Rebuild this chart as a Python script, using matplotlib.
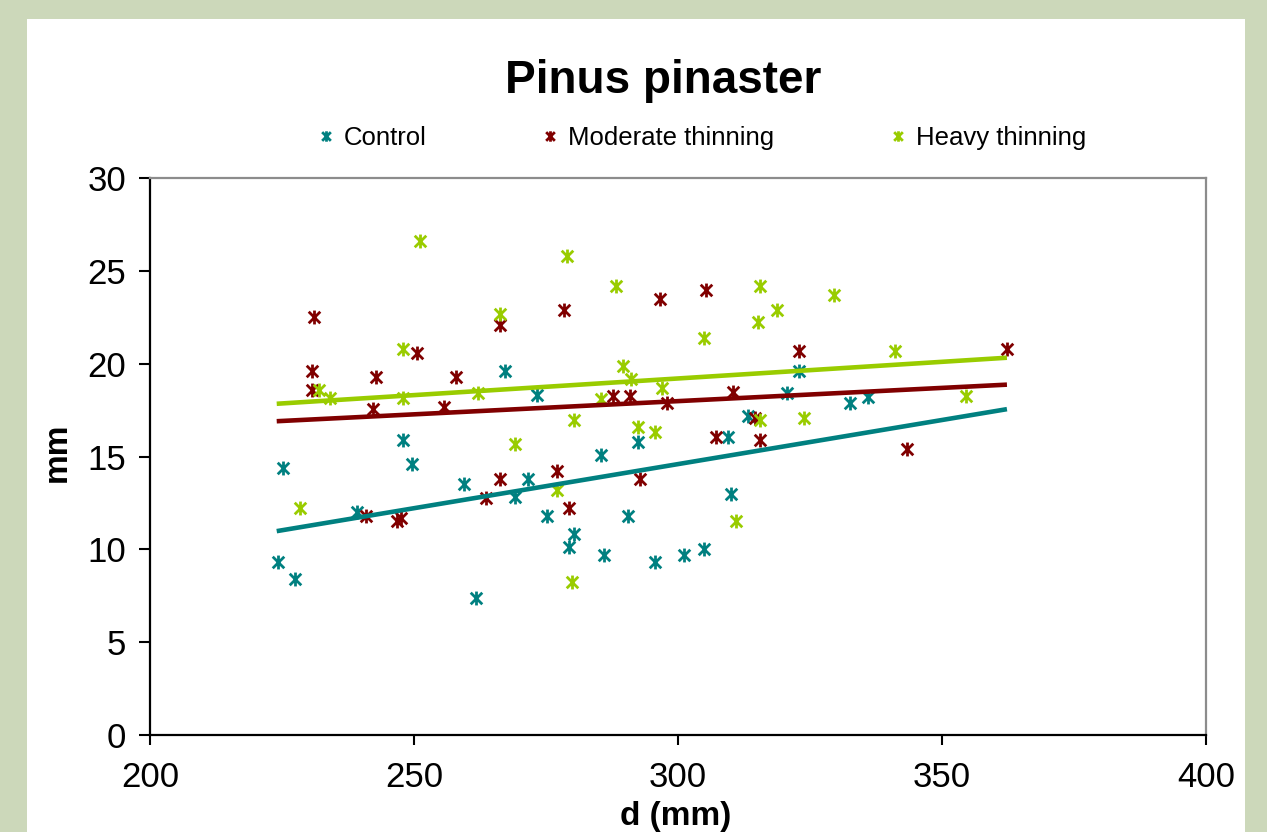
import numpy as np
import matplotlib
matplotlib.use("Agg")
import matplotlib.pyplot as plt
from matplotlib.path import Path
from matplotlib.patches import Rectangle

plt.rcParams["font.family"] = ["Liberation Sans", "DejaVu Sans"]

# ---------------------------------------------------------------
# Data: d (mm) vs increment (mm)
# ---------------------------------------------------------------
control_d = [224.2, 227.5, 225.2, 239.2, 247.9, 249.6, 259.4, 261.7, 267.2, 269.1,
             271.6, 273.3, 275.2, 279.4, 280.3, 285.4, 285.9, 290.5, 292.4, 295.6,
             301.1, 304.9, 309.5, 310.0, 313.3, 320.6, 322.9, 332.5, 336.0]
control_mm = [9.3, 8.4, 14.4, 12.0, 15.9, 14.6, 13.5, 7.4, 19.6, 12.8,
              13.8, 18.3, 11.8, 10.1, 10.8, 15.1, 9.7, 11.8, 15.8, 9.3,
              9.7, 10.0, 16.05, 13.0, 17.2, 18.4, 19.6, 17.9, 18.2]

moderate_d = [230.7, 230.7, 231.1, 240.9, 242.2, 242.8, 246.8, 247.6, 250.6, 255.7,
              258.0, 263.6, 266.3, 266.3, 277.0, 278.4, 279.4, 287.7, 290.9, 292.8,
              296.6, 297.9, 305.3, 307.2, 310.4, 314.6, 315.5, 322.9, 343.4, 362.3]
moderate_mm = [18.6, 19.6, 22.5, 11.8, 17.55, 19.3, 11.5, 11.7, 20.6, 17.66,
               19.3, 12.76, 13.8, 22.1, 14.2, 22.9, 12.2, 18.26, 18.26, 13.8,
               23.5, 17.9, 23.95, 16.05, 18.5, 17.1, 15.9, 20.7, 15.4, 20.8]

heavy_d = [228.4, 232.0, 234.1, 247.9, 247.9, 251.1, 262.1, 266.3, 269.1, 277.0,
           279.0, 279.9, 280.3, 285.4, 288.3, 289.6, 291.1, 292.4, 295.6, 297.0,
           304.9, 311.0, 315.1, 315.5, 315.5, 318.8, 323.9, 329.5, 341.1, 354.5]
heavy_mm = [12.2, 18.6, 18.15, 20.8, 18.15, 26.6, 18.4, 22.7, 15.67, 13.2,
            25.8, 8.24, 16.96, 18.1, 24.2, 19.9, 19.2, 16.6, 16.3, 18.7,
            21.4, 11.5, 22.25, 24.2, 16.96, 22.9, 17.1, 23.7, 20.7, 18.26]

# linear trend lines (end points)
trend_d = [224.0, 362.3]
control_trend = [10.98, 17.55]
moderate_trend = [16.9, 18.87]
heavy_trend = [17.84, 20.32]

labels = ["Control", "Moderate thinning", "Heavy thinning"]
colors = ["#008080", "#800000", "#99CC00"]

xticks = [200, 250, 300, 350, 400]
yticks = [0, 5, 10, 15, 20, 25, 30]

# Excel-like "star" marker: an X with a vertical bar
star = Path([(-1, -1), (1, 1), (-1, 1), (1, -1), (0, -1.2), (0, 1.2)],
            [Path.MOVETO, Path.LINETO, Path.MOVETO, Path.LINETO, Path.MOVETO, Path.LINETO])

W, H = 1267, 832
fig = plt.figure(figsize=(W / 100, H / 100), dpi=100)
fig.patch.set_facecolor("#CCD8BA")
fig.patches.append(Rectangle((27 / W, 0), (1245 - 27) / W, (H - 19) / H,
                             transform=fig.transFigure, facecolor="white",
                             edgecolor="none", zorder=-10))

ax = fig.add_axes([150 / W, 1 - 735 / H, (1206 - 150) / W, (735 - 178) / H])
ax.set_facecolor("white")

series = [(control_d, control_mm, control_trend),
          (moderate_d, moderate_mm, moderate_trend),
          (heavy_d, heavy_mm, heavy_trend)]
handles = []
for (xs, ys, tr), lab, c in zip(series, labels, colors):
    h, = ax.plot(xs, ys, linestyle="none", marker=star, markersize=10,
                 markeredgewidth=2.0, markeredgecolor=c, markerfacecolor="none",
                 color=c, label=lab, zorder=3)
    handles.append(h)
for (xs, ys, tr), c in zip(series, colors):
    ax.plot(trend_d, tr, color=c, lw=3.3, solid_capstyle="butt", zorder=4)

ax.set_xlim(200, 400)
ax.set_ylim(0, 30)
ax.set_xticks(xticks)
ax.set_yticks(yticks)
ax.tick_params(axis="x", direction="out", length=7, width=1.5, pad=12, labelsize=25)
ax.tick_params(axis="y", direction="out", length=8, width=1.5, pad=9, labelsize=25)

for side in ["left", "bottom"]:
    ax.spines[side].set_color("black")
    ax.spines[side].set_linewidth(1.6)
for side in ["top", "right"]:
    ax.spines[side].set_color("#8C8C8C")
    ax.spines[side].set_linewidth(1.6)

fig.text(663 / W, 1 - 81 / H, "Pinus pinaster", ha="center", va="center",
         fontsize=33, fontweight="bold")
fig.text(57 / W, 1 - 452 / H, "mm", ha="center", va="center", rotation=90,
         fontsize=24, fontweight="bold")
fig.text(676 / W, 1 - 817 / H, "d (mm)", ha="center", va="center",
         fontsize=24, fontweight="bold")

fig.legend(handles=handles, labels=labels, loc="center", ncol=3,
           bbox_to_anchor=(702 / W, 1 - 138 / H), bbox_transform=fig.transFigure,
           frameon=False, fontsize=18.5, markerscale=0.75, handlelength=0.6,
           handletextpad=0.4, columnspacing=4.5, borderpad=0)

fig.savefig("out.png", dpi=100)
